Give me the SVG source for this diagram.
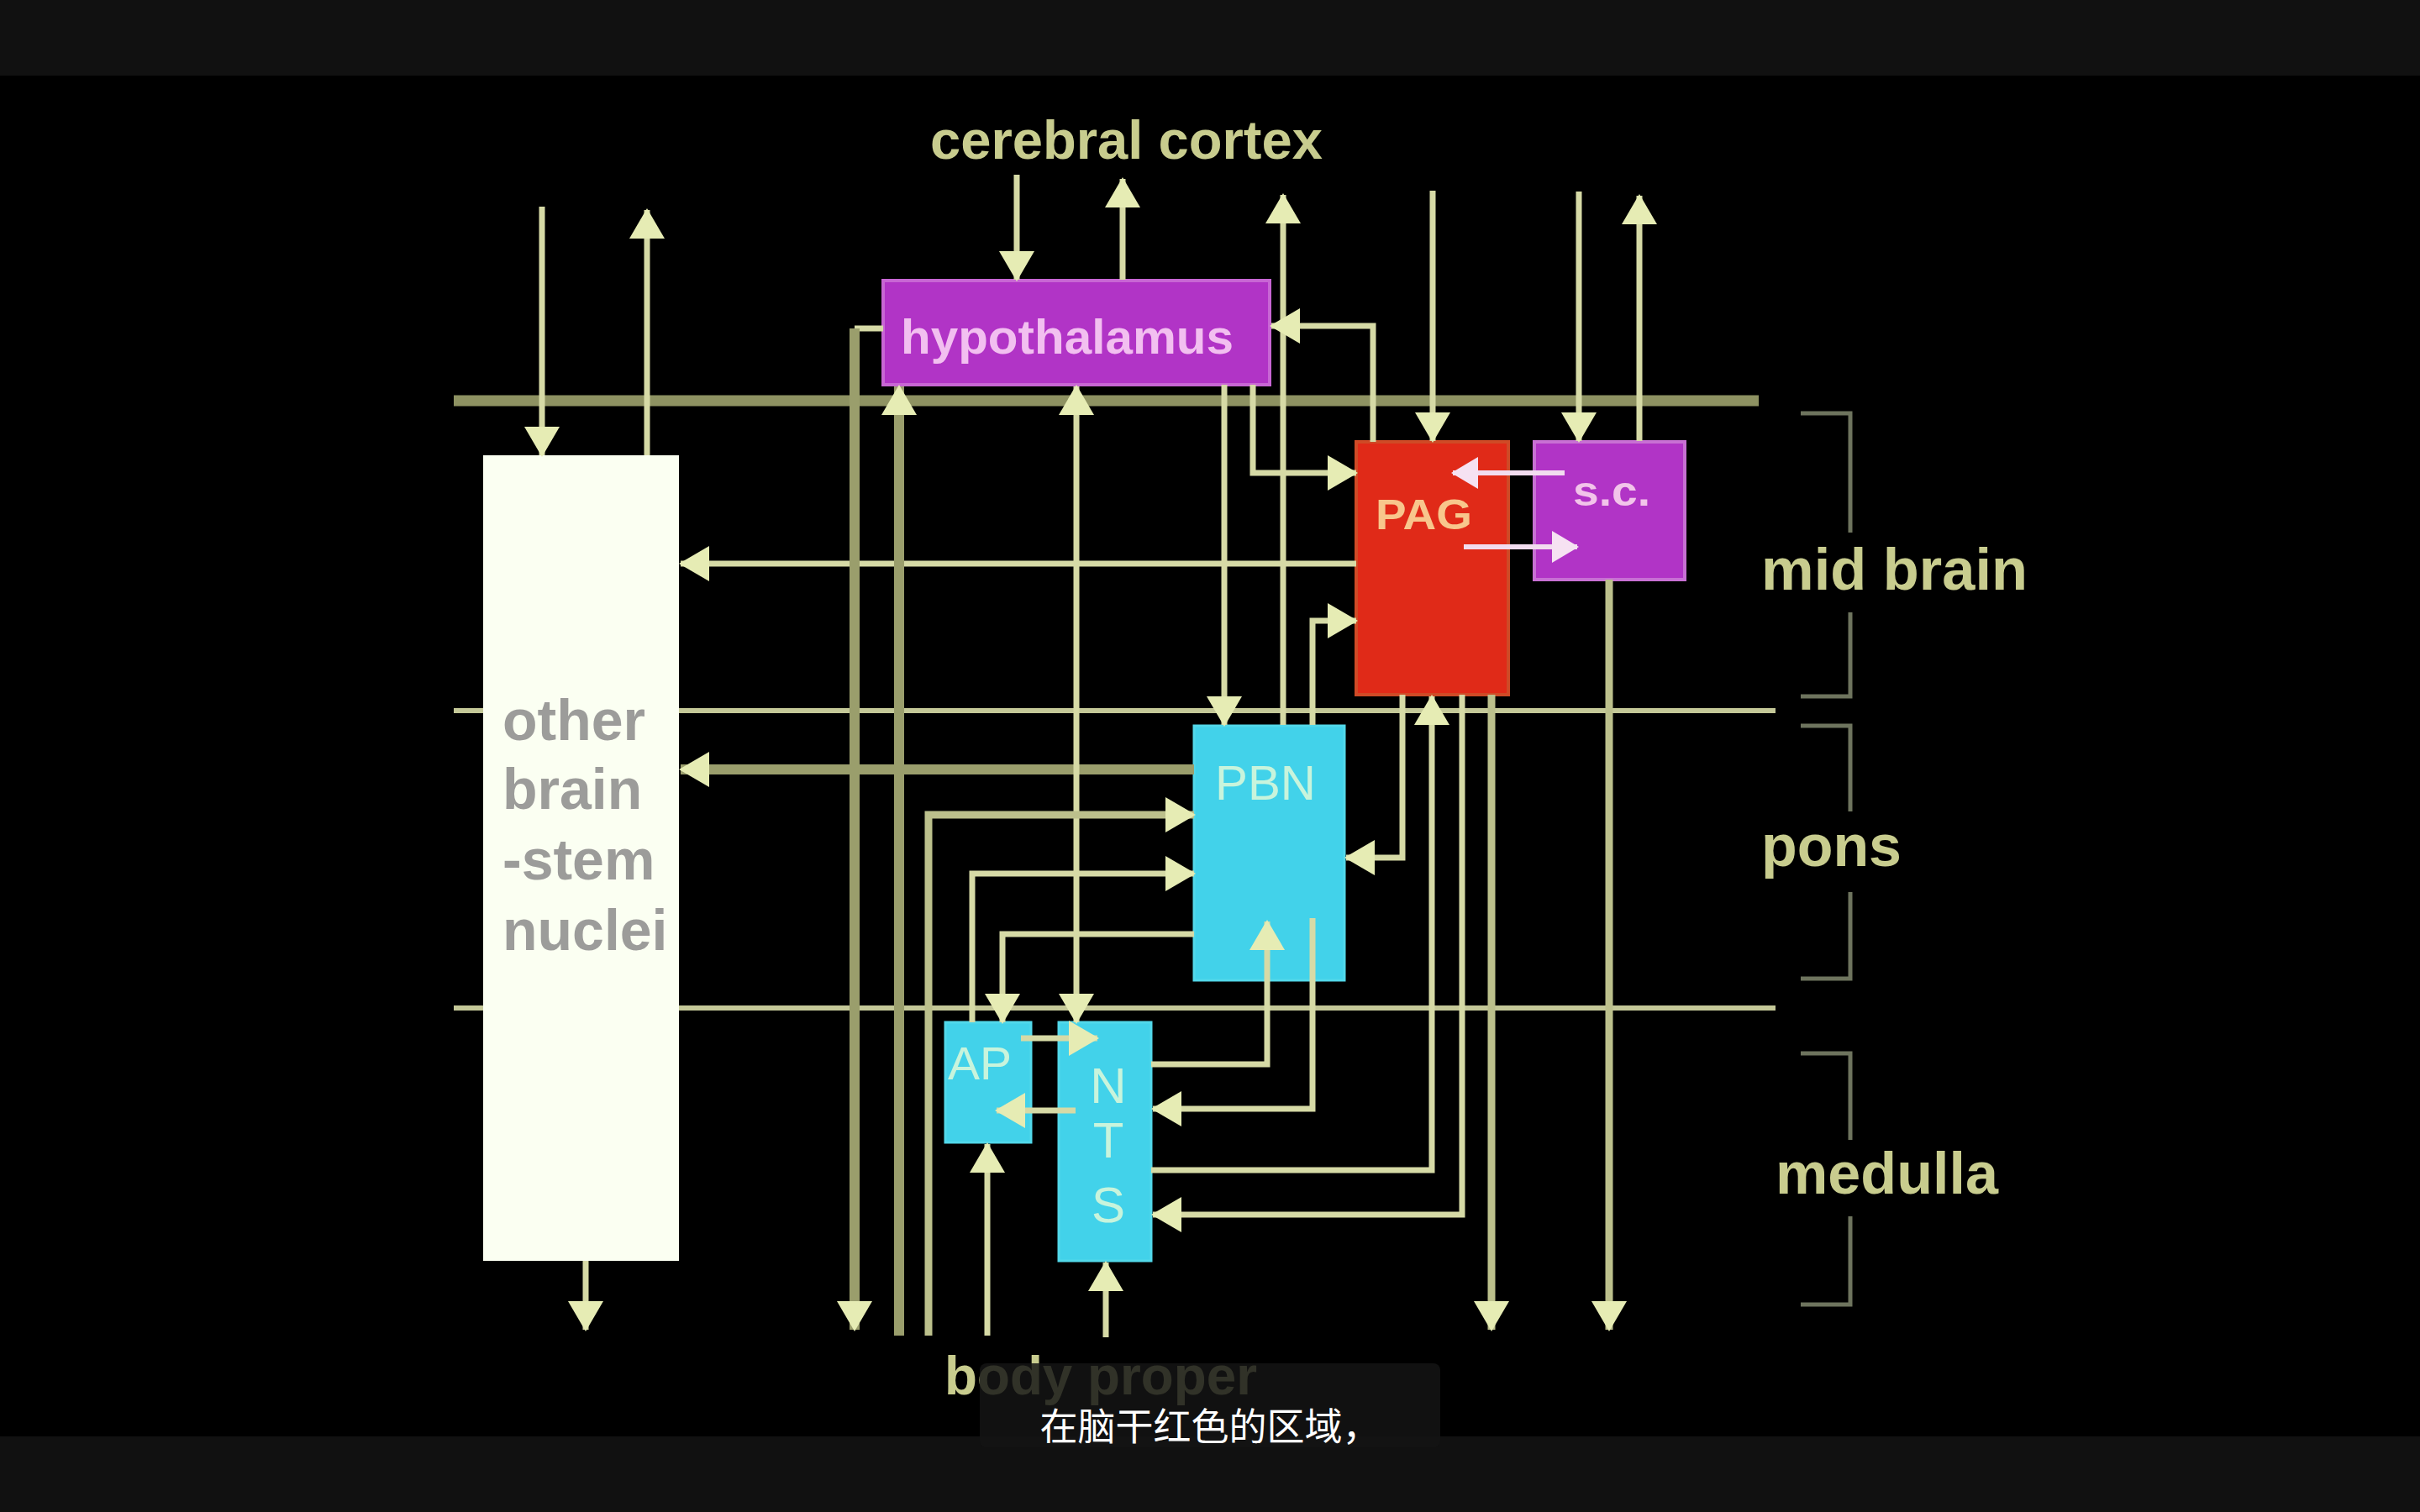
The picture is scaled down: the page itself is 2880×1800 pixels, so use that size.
<svg xmlns="http://www.w3.org/2000/svg" width="2880" height="1800" viewBox="0 0 2880 1800">
<style>
.lbl{font-family:"Liberation Sans",Arial,sans-serif;font-weight:bold;fill:#c8cc8e}
.node-txt{font-family:"Liberation Sans",Arial,sans-serif}
.c{fill:none;stroke:#d6daa6;stroke-width:7;stroke-linejoin:miter}
.ct{fill:none;stroke:#9a9e6c;stroke-width:12}
.cm{fill:none;stroke:#bcc08c;stroke-width:9}
.cp{fill:none;stroke:#f2dcef;stroke-width:6}
.div{fill:none;stroke:#c4c898;stroke-width:6}
.br{fill:none;stroke:#6e745e;stroke-width:5}
</style>
<defs>
<marker id="ah" viewBox="0 0 36 42" refX="34" refY="21" markerWidth="36" markerHeight="42" orient="auto-start-reverse" markerUnits="userSpaceOnUse"><path d="M0,0 L36,21 L0,42 Z" fill="#e6ecb4"/></marker>
<marker id="ahp" viewBox="0 0 32 38" refX="30" refY="19" markerWidth="32" markerHeight="38" orient="auto" markerUnits="userSpaceOnUse"><path d="M0,0 L32,19 L0,38 Z" fill="#f6e2f2"/></marker>
</defs>
<rect x="0" y="0" width="2880" height="1800" fill="#000"/>
<rect x="0" y="0" width="2880" height="90" fill="#111"/>
<rect x="0" y="1710" width="2880" height="90" fill="#111"/>

<g id="dividers">
<line x1="540" y1="477" x2="2093" y2="477" stroke="#8e9262" stroke-width="13"/>
<line class="div" x1="540" y1="846" x2="2113" y2="846"/>
<line class="div" x1="540" y1="1200" x2="2113" y2="1200"/>
</g>

<g id="brackets">
<path class="br" d="M2143,492 H2202 V634 M2202,729 V829 H2143"/>
<path class="br" d="M2143,864 H2202 V966 M2202,1062 V1165 H2143"/>
<path class="br" d="M2143,1254 H2202 V1357 M2202,1448 V1553 H2143"/>
</g>

<g id="labels">
<text class="lbl" x="1107" y="189" font-size="65" textLength="467" lengthAdjust="spacingAndGlyphs">cerebral cortex</text>
<text class="lbl" x="2096" y="702" font-size="70" textLength="317" lengthAdjust="spacingAndGlyphs">mid brain</text>
<text class="lbl" x="2096" y="1031" font-size="70" textLength="167" lengthAdjust="spacingAndGlyphs">pons</text>
<text class="lbl" x="2113" y="1421" font-size="70" textLength="265" lengthAdjust="spacingAndGlyphs">medulla</text>
<text class="lbl" x="1124" y="1660" font-size="64" textLength="372" lengthAdjust="spacingAndGlyphs">body proper</text>
</g>

<g id="node-other">
<rect x="575" y="542" width="233" height="959" fill="#fbfff2"/>
<g class="node-txt" font-weight="bold" font-size="68" fill="#9c9c9a">
<text x="598" y="881">other</text>
<text x="598" y="963">brain</text>
<text x="598" y="1047">-stem</text>
<text x="598" y="1131">nuclei</text>
</g>
</g>

<g id="node-hypothalamus">
<rect x="1051" y="334" width="460" height="124" fill="#b134c6" stroke="#c866d4" stroke-width="4"/>
<text class="node-txt" x="1072" y="421" font-size="58" font-weight="bold" fill="#f2bff0" textLength="396" lengthAdjust="spacingAndGlyphs">hypothalamus</text>
</g>

<g id="node-PAG">
<rect x="1614" y="526" width="181" height="301" fill="#e02a18" stroke="#cf4a26" stroke-width="4"/>
<text class="node-txt" x="1637" y="630" font-size="50" font-weight="bold" fill="#f8c68c" textLength="115" lengthAdjust="spacingAndGlyphs">PAG</text>
</g>

<g id="node-sc">
<rect x="1826" y="526" width="179" height="164" fill="#b134c6" stroke="#c870d4" stroke-width="4"/>
<text class="node-txt" x="1872" y="602" font-size="50" font-weight="bold" fill="#f2c4ea" textLength="92" lengthAdjust="spacingAndGlyphs">s.c.</text>
</g>

<g id="node-PBN">
<rect x="1421" y="864" width="179" height="303" fill="#42d2ea" stroke="#52d8ea" stroke-width="3"/>
<text class="node-txt" x="1446" y="952" font-size="58" fill="#c8f4dc" textLength="120" lengthAdjust="spacingAndGlyphs">PBN</text>
</g>

<g id="node-AP">
<rect x="1125" y="1217" width="102" height="143" fill="#42d2ea" stroke="#52d8ea" stroke-width="3"/>
<text class="node-txt" x="1128" y="1285" font-size="56" fill="#c8f4dc" textLength="76" lengthAdjust="spacingAndGlyphs">AP</text>
</g>

<g id="node-NTS">
<rect x="1260" y="1217" width="110" height="284" fill="#42d2ea" stroke="#52d8ea" stroke-width="3"/>
<g class="node-txt" font-size="60" fill="#c8f4dc" text-anchor="middle">
<text x="1319" y="1313">N</text>
<text x="1319" y="1378">T</text>
<text x="1319" y="1455">S</text>
</g>
</g>

<g id="connectors">
<path class="c" d="M645,246 V542" marker-end="url(#ah)"/>
<path class="c" d="M770,542 V250" marker-end="url(#ah)"/>
<path class="c" d="M1210,208 V333" marker-end="url(#ah)"/>
<path class="c" d="M1336,333 V213" marker-end="url(#ah)"/>
<path class="c" d="M1527,863 V232" marker-end="url(#ah)"/>
<path class="c" d="M1705,227 V525" marker-end="url(#ah)"/>
<path class="c" d="M1879,228 V525" marker-end="url(#ah)"/>
<path class="c" d="M1951,525 V233" marker-end="url(#ah)"/>
<path class="c" d="M697,1501 V1583" marker-end="url(#ah)"/>
<path class="c" d="M1614,671 H810" marker-end="url(#ah)"/>
<path class="ct" d="M1421,916 H810" marker-end="url(#ah)"/>
<path class="c" d="M1051,391 H1017"/>
<path class="ct" d="M1017,391 V1583" marker-end="url(#ah)"/>
<path class="ct" d="M1070,1590 V460" marker-end="url(#ah)"/>
<path class="c" d="M1281,460 V1217" marker-start="url(#ah)" marker-end="url(#ah)"/>
<path class="c" d="M1491,458 V563 H1614" marker-end="url(#ah)"/>
<path class="c" d="M1457,458 V863" marker-end="url(#ah)"/>
<path class="c" d="M1634,526 V388 H1513" marker-end="url(#ah)"/>
<path class="cm" d="M1105,1590 V970 H1421" marker-end="url(#ah)"/>
<path class="c" d="M1157,1217 V1040 H1421" marker-end="url(#ah)"/>
<path class="c" d="M1421,1112 H1193 V1217" marker-end="url(#ah)"/>
<path class="c" d="M1562,863 V739 H1614" marker-end="url(#ah)"/>
<path class="c" d="M1669,827 V1021 H1602" marker-end="url(#ah)"/>
<path class="c" d="M1370,1267 H1508 V1097" marker-end="url(#ah)"/>
<path class="c" d="M1562,1093 V1320 H1372" marker-end="url(#ah)"/>
<path class="c" d="M1175,1590 V1362" marker-end="url(#ah)"/>
<path class="c" d="M1316,1592 V1503" marker-end="url(#ah)"/>
<path class="c" d="M1215,1236 H1306" marker-end="url(#ah)"/>
<path class="c" d="M1280,1322 H1186" marker-end="url(#ah)"/>
<path class="c" d="M1370,1393 H1704 V829" marker-end="url(#ah)"/>
<path class="c" d="M1740,827 V1446 H1372" marker-end="url(#ah)"/>
<path class="cm" d="M1775,827 V1583" marker-end="url(#ah)"/>
<path class="cm" d="M1915,690 V1583" marker-end="url(#ah)"/>
<path class="cp" d="M1862,563 H1729" marker-end="url(#ahp)"/>
<path class="cp" d="M1742,651 H1877" marker-end="url(#ahp)"/>
</g>

<g id="subtitle">
<rect x="1166" y="1623" width="548" height="100" rx="8" fill="#141414" fill-opacity="0.84"/>
<text x="1440" y="1715" font-family="'Noto Sans CJK SC',sans-serif" font-size="45" fill="#ffffff" text-anchor="middle">在脑干红色的区域，</text>
</g>
</svg>
